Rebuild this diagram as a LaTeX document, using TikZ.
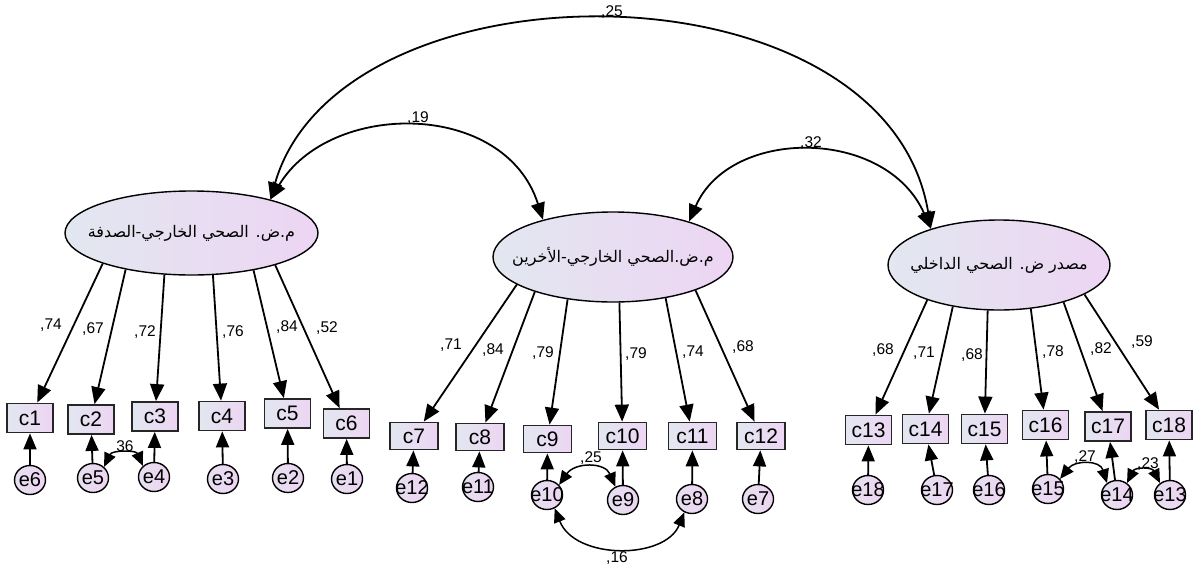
\documentclass[tikz,border=0pt]{standalone}
\usepackage{fontspec}
\setmainfont{Liberation Sans}
\newfontfamily\arabicfont[Script=Arabic]{DejaVu Sans}
\TeXXeTstate=1
\usetikzlibrary{arrows.meta,shapes.geometric}
\definecolor{gA}{RGB}{226,231,240}
\definecolor{gB}{RGB}{237,213,243}
\definecolor{eA}{RGB}{230,224,240}
\definecolor{eB}{RGB}{237,212,241}
\newcommand\ez[1]{\makebox[0pt]{#1}}
\begin{document}
\begin{tikzpicture}[x=1pt,y=-1pt,
 latent/.style={ellipse,draw=black,line width=1.4pt,left color=gA,right color=gB,inner sep=0pt,font=\arabicfont\fontsize{16}{16}\selectfont},
 obsbox/.style={rectangle,draw=black!85,line width=1.8pt,left color=gA,right color=gB,minimum width=46pt,minimum height=29pt,inner sep=0pt,font=\fontsize{21}{21}\selectfont},
 errnode/.style={ellipse,draw=black,line width=1.4pt,left color=eA,right color=eB,minimum width=31pt,minimum height=29pt,inner sep=0pt,font=\fontsize{20}{20}\selectfont},
 load/.style={line width=1.8pt,-{Triangle[length=17pt,width=14pt]}},
 errarrow/.style={line width=1.8pt,-{Triangle[length=16pt,width=13pt]}},
 covbig/.style={line width=1.8pt,{Triangle[length=17pt,width=14pt]}-{Triangle[length=17pt,width=14pt]}},
 covsmall/.style={line width=1.5pt,{Triangle[length=14pt,width=12pt]}-{Triangle[length=14pt,width=12pt]}},
 lbl/.style={font=\fontsize{15.5}{16}\selectfont,inner sep=0pt}
]
\useasboundingbox (0,0) rectangle (1193,570);

% latent variables
\node[latent,minimum width=253pt,minimum height=84pt] (L) at (191.5,233) {\ez{\beginR م.ض. الصحي الخارجي-الصدفة\endR}};
\node[latent,minimum width=240pt,minimum height=90pt] (M) at (613,257) {\ez{\beginR م.ض.الصحي الخارجي-الأخرين\endR}};
\node[latent,minimum width=222pt,minimum height=90pt] (R) at (999,265) {\ez{\beginR مصدر ض. الصحي الداخلي\endR}};

% observed
\node[obsbox] (c1) at (30,418) {c1};
\node[obsbox] (c2) at (91,419.5) {c2};
\node[obsbox] (c3) at (155,416.5) {c3};
\node[obsbox] (c4) at (222,416) {c4};
\node[obsbox] (c5) at (287.5,413.5) {c5};
\node[obsbox] (c6) at (346.5,423.5) {c6};
\node[obsbox,minimum width=48pt,minimum height=27pt] (c7) at (414,436) {c7};
\node[obsbox,minimum width=48pt,minimum height=27pt] (c8) at (480,437) {c8};
\node[obsbox,minimum width=48pt,minimum height=27pt] (c9) at (547.5,439) {c9};
\node[obsbox,minimum width=48pt,minimum height=27pt] (c10) at (622.5,436) {c10};
\node[obsbox,minimum width=48pt,minimum height=27pt] (c11) at (692.5,436) {c11};
\node[obsbox,minimum width=48pt,minimum height=27pt] (c12) at (761,436) {c12};
\node[obsbox] (c13) at (868.5,430) {c13};
\node[obsbox] (c14) at (925.5,429) {c14};
\node[obsbox] (c15) at (984.5,429) {c15};
\node[obsbox] (c16) at (1045.5,425) {c16};
\node[obsbox] (c17) at (1108,426.5) {c17};
\node[obsbox] (c18) at (1169,425) {c18};

% errors
\node[errnode] (e6) at (30,480) {\ez{e6}};
\node[errnode] (e5) at (93,478) {\ez{e5}};
\node[errnode] (e4) at (154,477) {\ez{e4}};
\node[errnode] (e3) at (223,479) {\ez{e3}};
\node[errnode] (e2) at (288,478) {\ez{e2}};
\node[errnode] (e1) at (347,479) {\ez{e1}};
\node[errnode] (e12) at (412,488) {\ez{e12}};
\node[errnode] (e11) at (478,487) {\ez{e11}};
\node[errnode] (e10) at (547,495) {\ez{e10}};
\node[errnode] (e9) at (623,500) {\ez{e9}};
\node[errnode] (e8) at (692,499) {\ez{e8}};
\node[errnode] (e7) at (758,499) {\ez{e7}};
\node[errnode] (e18) at (868,490) {\ez{e18}};
\node[errnode] (e17) at (937,490) {\ez{e17}};
\node[errnode] (e16) at (989,490) {\ez{e16}};
\node[errnode] (e15) at (1048,489) {\ez{e15}};
\node[errnode] (e14) at (1117,495) {\ez{e14}};
\node[errnode] (e13) at (1170,495) {\ez{e13}};

% loadings
\draw[load] (L.199.3) -- (c1);
\draw[load] (L.209.7) -- (c2);
\draw[load] (L.237.4) -- (c3);
\draw[load] (L.297.6) -- (c4);
\draw[load] (L.329.9) -- (c5);
\draw[load] (L.339.7) -- (c6);
\draw[load] (M.196.1) -- (c7);
\draw[load] (M.204.8) -- (c8);
\draw[load] (M.223) -- (c9);
\draw[load] (M.278.8) -- (c10);
\draw[load] (M.322.1) -- (c11);
\draw[load] (M.338) -- (c12);
\draw[load] (R.206.6) -- (c13);
\draw[load] (R.222.5) -- (c14);
\draw[load] (R.256.8) -- (c15);
\draw[load] (R.306.9) -- (c16);
\draw[load] (R.330) -- (c17);
\draw[load] (R.341.2) -- (c18);

% loading labels
\node[lbl] (l1) at (51,325) {,74};
\node[lbl] (l2) at (93,329) {,67};
\node[lbl] (l3) at (145,332) {,72};
\node[lbl] (l4) at (233,332) {,76};
\node[lbl] (l5) at (287,327) {,84};
\node[lbl] (l6) at (327,328) {,52};
\node[lbl] (l7) at (451,345) {,71};
\node[lbl] (l8) at (493,350) {,84};
\node[lbl] (l9) at (543,353) {,79};
\node[lbl] (l10) at (636,354) {,79};
\node[lbl] (l11) at (693,352) {,74};
\node[lbl] (l12) at (743,347) {,68};
\node[lbl] (l13) at (883,350) {,68};
\node[lbl] (l14) at (924,353) {,71};
\node[lbl] (l15) at (972,355) {,68};
\node[lbl] (l16) at (1053,352) {,78};
\node[lbl] (l17) at (1101,349) {,82};
\node[lbl] (l18) at (1142,342) {,59};

% error arrows
\foreach \e/\c in {e6/c1,e5/c2,e4/c3,e3/c4,e2/c5,e1/c6,e12/c7,e11/c8,e10/c9,e9/c10,e8/c11,e7/c12,e18/c13,e17/c14,e16/c15,e15/c16,e14/c17,e13/c18}
  \draw[errarrow] (\e) -- (\c);

% big covariances
\draw[covbig] (L.23.5) .. controls (330,100) and (505,100) .. (M.152);
\draw[covbig] (L.23.5) .. controls (340,-44) and (886,-44) .. (R.152.4);
\draw[covbig] (M.25.3) .. controls (730,127) and (886,127) .. (R.152.4);
\node[lbl] (k19) at (418,118) {,19};
\node[lbl] (k25) at (612,12) {,25};
\node[lbl] (k32) at (811,143) {,32};

% small covariances
\draw[covsmall] (e5.45) .. controls (112,450) and (136,450) .. (e4.135);
\draw[covsmall] (e10.40) .. controls (575,462) and (605,462) .. (e9.120);
\draw[covsmall] (e10.-60) .. controls (575,560) and (665,560) .. (e8.-120);
\draw[covsmall] (e15.40) .. controls (1075,460) and (1100,460) .. (e14.130);
\draw[covsmall] (e14.50) .. controls (1135,467) and (1152,467) .. (e13.130);
\node[lbl] (k36) at (125,446) {36};
\node[lbl] (k25b) at (591,458) {,25};
\node[lbl] (k16) at (617,558) {,16};
\node[lbl] (k27) at (1085,457) {,27};
\node[lbl] (k23) at (1148,464) {,23};
\end{tikzpicture}
\end{document}
